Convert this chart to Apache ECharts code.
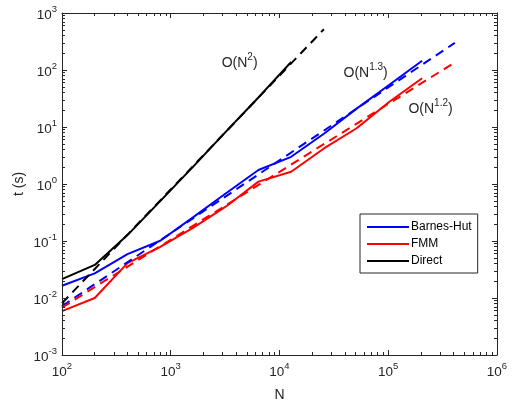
<!DOCTYPE html>
<html>
<head>
<meta charset="utf-8">
<script src="https://cdn.jsdelivr.net/npm/echarts@6/dist/echarts.min.js"></script>
<style>
  html, body { margin: 0; padding: 0; background: #fff; }
  #main { width: 513px; height: 401px; }
</style>
</head>
<body>
<div id="main"></div>
<script>
// problem sizes N
var N = [100, 200, 400, 800, 1600, 3200, 6400, 12800, 25600, 51200, 102400, 204800];
// timings t (s)
var bhTime = [0.0164, 0.027, 0.059, 0.101, 0.26, 0.68, 1.76, 3.0, 7.6, 21, 55, 145];
var fmmTime = [0.0059, 0.010, 0.041, 0.079, 0.17, 0.40, 1.1, 1.64, 4.2, 9.5, 27.8, 71.5];
var directN = [100, 200, 400, 800, 1600, 3200, 6400, 12800];
var directTime = [0.0215, 0.038, 0.127, 0.5, 2.0, 8.2, 33, 138];
// reference slopes (straight lines in log-log, end points)
var fitN2 = [[100, 0.0081], [25600, 520]];
var fitN13 = [[100, 0.0072], [409600, 300]];
var fitN12 = [[100, 0.0068], [409600, 136]];
// annotations: [N, t, base, exponent]
var notes = [
  [4300, 145, 'O(N', '2'],
  [62000, 94, 'O(N', '1.3'],
  [245000, 22.5, 'O(N', '1.2']
];
// tick labels (decade exponents)
var xExp = [2, 3, 4, 5, 6];
var yExp = [-3, -2, -1, 0, 1, 2, 3];

var axisColor = '#262626';
var font = 'Liberation Sans, Arial, sans-serif';

function pair(xs, ys) {
  var out = [];
  for (var i = 0; i < xs.length; i++) out.push([xs[i], ys[i]]);
  return out;
}
function decades(exps) {
  return exps.map(function (e) { return Math.pow(10, e); });
}
function minors(exps) {
  var out = [];
  for (var i = 0; i < exps.length - 1; i++) {
    for (var k = 2; k <= 9; k++) out.push(k * Math.pow(10, exps[i]));
  }
  return out;
}
function expLabel(v) {
  var e = Math.round(Math.log10(v));
  return '{b|10}{e|' + e + '}';
}
var labelRich = {
  b: { fontSize: 13.5, color: axisColor, fontFamily: font, lineHeight: 18, verticalAlign: 'bottom' },
  e: { fontSize: 9.5, color: axisColor, fontFamily: font, lineHeight: 10, verticalAlign: 'top' }
};

function logAxis(dim, pos, opts) {
  var exps = dim === 'x' ? xExp : yExp;
  var a = {
    type: 'log',
    logBase: 10,
    position: pos,
    min: Math.pow(10, exps[0]),
    max: Math.pow(10, exps[exps.length - 1]),
    splitLine: { show: false },
    axisLine: { show: opts.line, onZero: false, lineStyle: { color: axisColor, width: 1 } },
    axisTick: {
      show: true, inside: true, length: opts.minor ? 3 : 5,
      customValues: opts.minor ? minors(exps) : decades(exps),
      lineStyle: { color: axisColor, width: 1 }
    },
    axisLabel: { show: false },
    z: 10
  };
  if (opts.labels) {
    a.axisLabel = {
      show: true,
      customValues: decades(exps),
      formatter: expLabel,
      rich: labelRich,
      margin: dim === 'x' ? 6 : 5
    };
  }
  return a;
}

var chart = echarts.init(document.getElementById('main'));

var xAxes = [
  logAxis('x', 'bottom', { line: true, labels: true }),
  logAxis('x', 'top', { line: true }),
  logAxis('x', 'bottom', { minor: true }),
  logAxis('x', 'top', { minor: true })
];
xAxes[0].name = 'N';
xAxes[0].nameLocation = 'middle';
xAxes[0].nameGap = 33;
xAxes[0].nameTextStyle = { fontSize: 14, color: axisColor, fontFamily: font };

var yAxes = [
  logAxis('y', 'left', { line: true, labels: true }),
  logAxis('y', 'right', { line: true }),
  logAxis('y', 'left', { minor: true }),
  logAxis('y', 'right', { minor: true })
];
yAxes[0].name = 't (s)';
yAxes[0].nameLocation = 'middle';
yAxes[0].nameGap = 36;
yAxes[0].nameMoveOverlap = false;
yAxes[0].nameTextStyle = { fontSize: 14, color: axisColor, fontFamily: font };

function solid(name, data, color) {
  return {
    name: name, type: 'line', data: data, symbol: 'none', animation: false,
    lineStyle: { color: color, width: 2 }, itemStyle: { color: color }
  };
}
function dashed(name, data, color, note) {
  return {
    name: name, type: 'line', data: data, symbol: 'none', animation: false,
    lineStyle: { color: color, width: 2, type: [9, 6] }, itemStyle: { color: color },
    markPoint: {
      symbol: 'circle', symbolSize: 0, animation: false,
      label: {
        show: true, position: 'inside',
        formatter: '{b|' + note[2] + '}{e|' + note[3] + '}{b|)}',
        rich: {
          b: { fontSize: 14, color: axisColor, fontFamily: font, lineHeight: 18, verticalAlign: 'bottom' },
          e: { fontSize: 10, color: axisColor, fontFamily: font, lineHeight: 11, verticalAlign: 'top' }
        }
      },
      data: [{ coord: [note[0], note[1]] }]
    }
  };
}

chart.setOption({
  backgroundColor: '#fff',
  animation: false,
  grid: { left: 62, right: 16, top: 13, bottom: 46, outerBoundsMode: 'none' },
  legend: {
    data: ['Barnes-Hut', 'FMM', 'Direct'],
    orient: 'vertical',
    left: 360, top: 214,
    icon: 'rect',
    itemWidth: 42, itemHeight: 2, itemGap: 3,
    padding: [6, 6, 5, 7],
    backgroundColor: '#fff',
    borderColor: axisColor, borderWidth: 1, borderRadius: 0,
    textStyle: { fontSize: 12, color: '#000', fontFamily: font, lineHeight: 14, padding: [0, 0, 0, -3] }
  },
  xAxis: xAxes,
  yAxis: yAxes,
  series: [
    solid('Barnes-Hut', pair(N, bhTime), '#0000ff'),
    solid('FMM', pair(N, fmmTime), '#ff0000'),
    solid('Direct', pair(directN, directTime), '#000000'),
    dashed('fitN2', fitN2, '#000000', notes[0]),
    dashed('fitN13', fitN13, '#0000ff', notes[1]),
    dashed('fitN12', fitN12, '#ff0000', notes[2])
  ]
});
</script>
</body>
</html>
